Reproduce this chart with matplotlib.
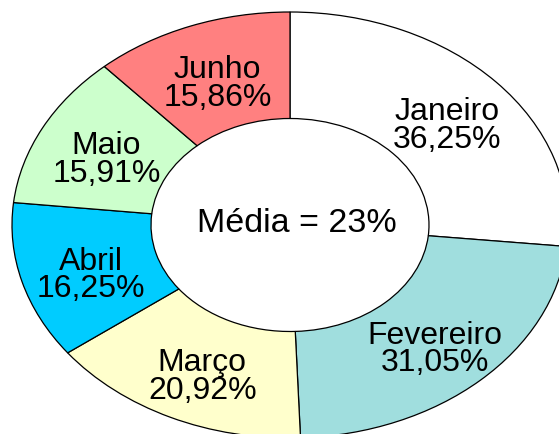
import numpy as np
import matplotlib
matplotlib.use("Agg")
import matplotlib.pyplot as plt

months = ["Janeiro", "Fevereiro", "Março", "Abril", "Maio", "Junho"]
values = [36.25, 31.05, 20.92, 16.25, 15.91, 15.86]
value_labels = ["36,25%", "31,05%", "20,92%", "16,25%", "15,91%", "15,86%"]
colors = ["#FFFFFF", "#A0DEDE", "#FFFFCC", "#00CCFF", "#CCFFCC", "#FF8080"]
center_text = "Média = 23%"

plt.rcParams['font.family'] = ['Liberation Sans', 'DejaVu Sans']

fig = plt.figure(figsize=(5.59, 4.35), dpi=100)
ax = fig.add_axes([0, 0, 1, 1])
wedges, _ = ax.pie(values, colors=colors, startangle=90, counterclock=False,
                   radius=1.0,
                   wedgeprops=dict(width=0.5, edgecolor="black", linewidth=0.9))
ax.set_aspect('auto')
ax.set_xlim(-290 / 278, 269 / 278)
ax.set_ylim(-209 / 213, 226 / 213)
ax.axis('off')

total = sum(values)
start = 90.0
r = 0.75
dx, dy = 2 / 278, -7 / 213
for name, lab, v in zip(months, value_labels, values):
    span = 360.0 * v / total
    mid = np.deg2rad(start - span / 2)
    start -= span
    ax.text(r * np.cos(mid) + dx, r * np.sin(mid) + dy, f"{name}\n{lab}",
            ha='center', va='center', fontsize=23, linespacing=0.9)

ax.text(0.025, 0.01, center_text, ha='center', va='center', fontsize=24.5)

fig.savefig("out.png", dpi=100)
